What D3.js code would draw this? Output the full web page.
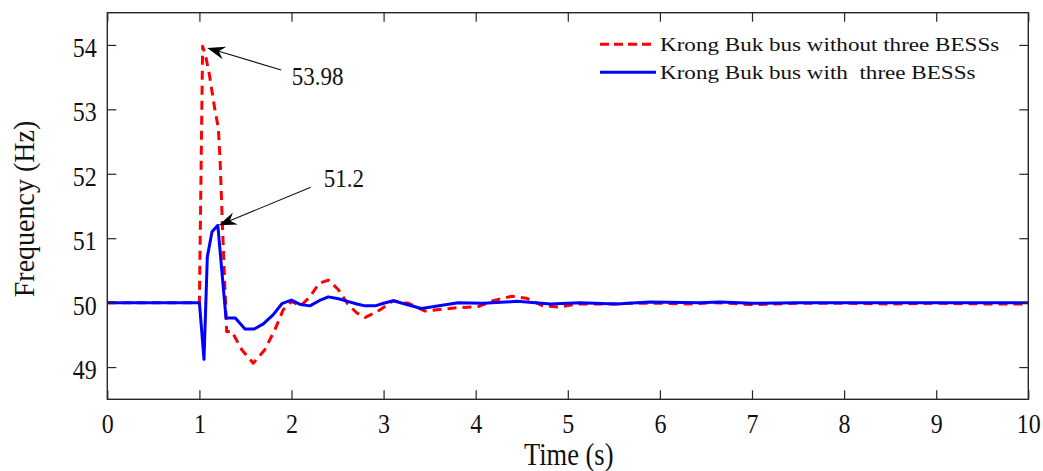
<!DOCTYPE html>
<html>
<head>
<meta charset="utf-8">
<script src="https://cdn.jsdelivr.net/npm/d3@7"></script>
<style>
  html, body { margin: 0; padding: 0; background: #fff; }
  svg { display: block; }
</style>
</head>
<body>
<svg id="chart" width="1043" height="471"></svg>
<script>
// Frequency at the Krong Buk bus after the disturbance at t = 1 s
const timeWithout = [0, 1.0, 1.035, 1.07, 1.107, 1.17, 1.205, 1.225, 1.25, 1.296, 1.35, 1.46, 1.585, 1.71, 1.82, 1.91, 2.0, 2.1, 2.2, 2.3, 2.4, 2.51, 2.61, 2.71, 2.80, 2.93, 3.105, 3.27, 3.45, 3.79, 4.03, 4.19, 4.39, 4.55, 4.73, 4.90, 5.10, 5.5, 5.66, 6.06, 6.3, 6.6, 7.0, 7.5, 8.0, 8.5, 9.0, 9.5, 10];
const freqWithout = [50, 50, 53.98, 53.81, 53.55, 52.98, 52.72, 52.2, 51.2, 49.55, 49.56, 49.27, 49.06, 49.27, 49.58, 49.89, 50.02, 49.95, 50.09, 50.30, 50.35, 50.20, 49.98, 49.84, 49.77, 49.86, 50.03, 49.99, 49.87, 49.92, 49.94, 50.03, 50.10, 50.07, 49.95, 49.93, 49.98, 49.98, 49.99, 49.99, 49.98, 50.0, 49.97, 49.99, 49.99, 49.98, 49.99, 49.98, 49.98];

const timeWith = [0, 1.0, 1.05, 1.086, 1.137, 1.20, 1.289, 1.39, 1.495, 1.596, 1.694, 1.80, 1.90, 1.998, 2.10, 2.20, 2.30, 2.40, 2.51, 2.61, 2.71, 2.80, 2.91, 3.0, 3.105, 3.41, 3.81, 4.08, 4.45, 4.81, 5.13, 5.53, 5.89, 6.43, 6.65, 7.0, 7.5, 8, 9, 10];
const freqWith = [50, 50, 49.12, 50.71, 51.10, 51.20, 49.76, 49.76, 49.59, 49.59, 49.67, 49.81, 49.99, 50.04, 49.97, 49.95, 50.03, 50.09, 50.06, 50.02, 49.98, 49.95, 49.95, 49.99, 50.03, 49.91, 50.0, 49.99, 50.02, 49.98, 50.0, 49.98, 50.01, 50.0, 50.01, 49.99, 50.0, 50.0, 50.0, 50.0];

const xTicks = [0, 1, 2, 3, 4, 5, 6, 7, 8, 9, 10];
const yTicks = [49, 50, 51, 52, 53, 54];

const seriesNames = ["Krong Buk bus without three BESSs", "Krong Buk bus with  three BESSs"];

// Peak annotations: value shown and where the arrow points
const peakLabels = ["53.98", "51.2"];
const peakTimes = [1.085, 1.21];
const peakValues = [53.98, 51.2];

const FONT = "'Liberation Serif', 'Times New Roman', serif";
const INK = "#262626";

const svg = d3.select("#chart");
const m = { left: 107.3, top: 12.7, right: 1028.3, bottom: 399.3 };

const x = d3.scaleLinear().domain([0, 10]).range([m.left, m.right]);
const y = d3.scaleLinear().domain([48.5, 54.5]).range([m.bottom, m.top]);

// text helper with independent horizontal / vertical glyph scaling
function label(g, px, py, str, size, sx, sy, anchor, rot) {
  return g.append("text")
    .attr("transform", `translate(${px},${py}) rotate(${rot || 0}) scale(${sx},${sy})`)
    .attr("text-anchor", anchor || "start")
    .attr("font-family", FONT)
    .attr("font-size", size)
    .attr("fill", "#111")
    .style("white-space", "pre")
    .text(str);
}

// series
const lineGen = (ts, fs) => d3.line()
  .x((d, i) => x(ts[i]))
  .y((d, i) => y(fs[i]))(fs);

const plot = svg.append("g");
plot.append("path")
  .attr("d", lineGen(timeWithout, freqWithout))
  .attr("fill", "none")
  .attr("stroke", "#ff0000")
  .attr("stroke-width", 3)
  .attr("stroke-dasharray", "9,6")
  .attr("stroke-linejoin", "round");

plot.append("path")
  .attr("d", lineGen(timeWith, freqWith))
  .attr("fill", "none")
  .attr("stroke", "#0000ff")
  .attr("stroke-width", 3)
  .attr("stroke-linejoin", "round");

// axes with inward ticks on all four sides
function styleAxis(g) {
  g.attr("font-family", FONT);
  g.select(".domain").remove();
  g.selectAll(".tick line").attr("stroke", INK).attr("stroke-width", 1.2);
}

const axisB = svg.append("g")
  .attr("transform", `translate(0,${m.bottom})`)
  .call(d3.axisBottom(x).tickValues(xTicks).tickSizeInner(-9).tickSizeOuter(0).tickFormat(d3.format("d")));
styleAxis(axisB);
axisB.selectAll(".tick text")
  .attr("y", null).attr("dy", null)
  .attr("transform", "translate(0,34) scale(1,1.12)")
  .attr("font-family", FONT).attr("font-size", 24).attr("fill", "#111");

const axisL = svg.append("g")
  .attr("transform", `translate(${m.left},0)`)
  .call(d3.axisLeft(y).tickValues(yTicks).tickSizeInner(-9).tickSizeOuter(0).tickFormat(d3.format("d")));
styleAxis(axisL);
axisL.selectAll(".tick text")
  .attr("x", null).attr("dy", null)
  .attr("transform", "translate(-10.5,11.5) scale(1,1.12)")
  .attr("font-family", FONT).attr("font-size", 24).attr("fill", "#111");

const axisT = svg.append("g")
  .attr("transform", `translate(0,${m.top})`)
  .call(d3.axisTop(x).tickValues(xTicks).tickSizeInner(-9).tickSizeOuter(0).tickFormat(""));
styleAxis(axisT);

const axisR = svg.append("g")
  .attr("transform", `translate(${m.right},0)`)
  .call(d3.axisRight(y).tickValues(yTicks).tickSizeInner(-9).tickSizeOuter(0).tickFormat(""));
styleAxis(axisR);

svg.append("rect")
  .attr("x", m.left).attr("y", m.top)
  .attr("width", m.right - m.left).attr("height", m.bottom - m.top)
  .attr("fill", "none").attr("stroke", INK).attr("stroke-width", 1.4);

// axis titles
label(svg, 568.7, 465, "Time (s)", 26.5, 1, 1.2, "middle");
label(svg, 33.5, 209, "Frequency (Hz)", 28, 1, 1.07, "middle", -90);

// peak annotations with filled arrowheads
const annoOffsets = [[74, 22], [92, -38]];
const textOffsets = [[84.5, 37.5], [105, -38]];
const ann = svg.append("g");
peakLabels.forEach((txt, i) => {
  const tx = x(peakTimes[i]), ty = y(peakValues[i]) + (i === 0 ? 1.7 : 0);
  const sx = tx + annoOffsets[i][0], sy = ty + annoOffsets[i][1];
  const len = Math.hypot(tx - sx, ty - sy);
  const ux = (tx - sx) / len, uy = (ty - sy) / len;
  const nx = -uy, ny = ux;
  const L = 18, W = 6.5, notch = 6;
  ann.append("line")
    .attr("x1", sx).attr("y1", sy)
    .attr("x2", tx - (L - notch) * ux).attr("y2", ty - (L - notch) * uy)
    .attr("stroke", "#111").attr("stroke-width", 1.1);
  const pts = [
    [tx, ty],
    [tx - L * ux + W * nx, ty - L * uy + W * ny],
    [tx - (L - notch) * ux, ty - (L - notch) * uy],
    [tx - L * ux - W * nx, ty - L * uy - W * ny]
  ];
  ann.append("polygon")
    .attr("points", pts.map(p => p.join(",")).join(" "))
    .attr("fill", "#000");
  label(ann, tx + textOffsets[i][0], ty + textOffsets[i][1], txt, 23, 1, 1.13, "start");
});

// legend
const legend = svg.append("g");
const legendColors = ["#ff0000", "#0000ff"];
const legendDash = ["9,5", null];
const legendRows = [44.3, 72.3];
seriesNames.forEach((name, i) => {
  legend.append("line")
    .attr("x1", 600).attr("x2", 656)
    .attr("y1", legendRows[i]).attr("y2", legendRows[i])
    .attr("stroke", legendColors[i]).attr("stroke-width", 3)
    .attr("stroke-dasharray", legendDash[i]);
  label(legend, 660, legendRows[i] + 6.8, name, 21, 1.1, 0.88, "start");
});
</script>
</body>
</html>
